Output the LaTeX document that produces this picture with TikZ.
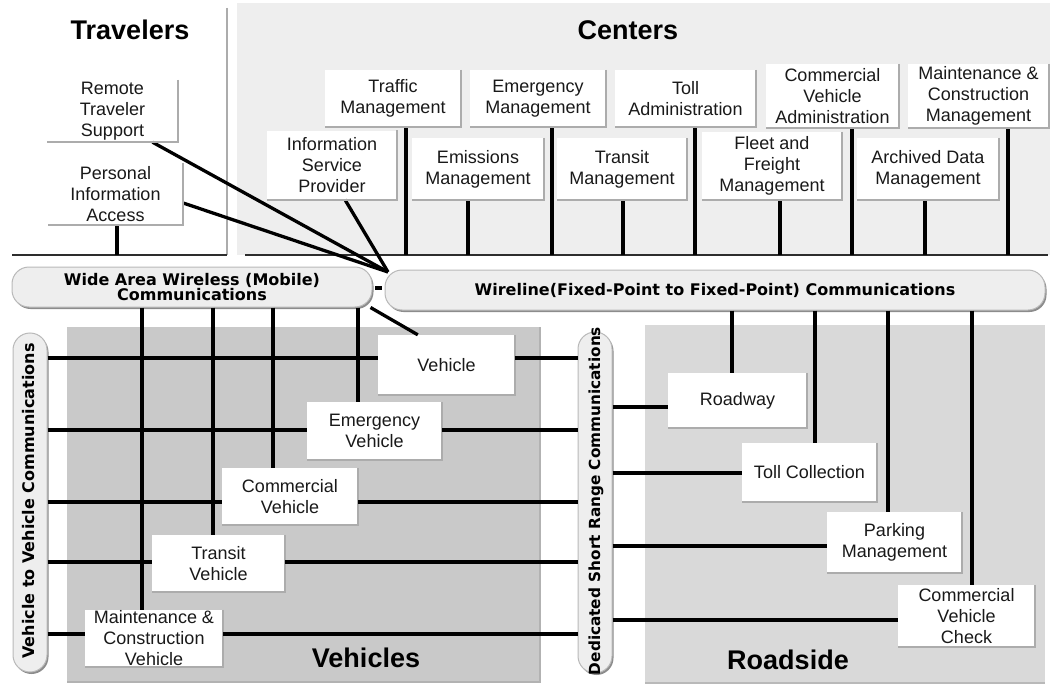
\documentclass[tikz,border=0pt]{standalone}
\usepackage{fontspec}
\setmainfont{Liberation Sans}
\newfontfamily\pillfont{DejaVu Sans}
\usetikzlibrary{shadows}
\begin{document}
\begin{tikzpicture}[x=1pt,y=-1pt,
  box/.style={fill=white, inner sep=0pt, align=center, font=\fontsize{18}{21}\selectfont, text=black!90},
  tbox/.style={box, fill=none},
  title/.style={inner sep=0pt, font=\fontsize{27}{30}\selectfont\bfseries},
  pill/.style={fill=gray!13, draw=gray!55, line width=1pt, rounded corners=17, inner sep=0pt, align=center,
     font=\pillfont\bfseries\fontsize{16}{15}\selectfont,
     drop shadow={shadow xshift=1.5pt, shadow yshift=-2pt, fill=black, opacity=0.45}},
  pilltext/.style={inner sep=0pt, font=\pillfont\bfseries\fontsize{16}{15}\selectfont},
  wire/.style={line width=3.3pt, black},
  edge3d/.style={draw=gray!65, line width=1.6pt},
  bus/.style={line width=2pt, gray!35!black}
]
\useasboundingbox (0,0) rectangle (1050,685);
\fill[white] (0,0) rectangle (1050,685);
% regions
\fill[gray!13] (237,3) rectangle (1050,255);
\fill[gray!42] (67,327) rectangle (540,682);
\draw[gray!60, line width=2pt] (540,327) -- (540,682) -- (67,682);
\fill[gray!30] (645,325) rectangle (1045,683);
\draw[gray!55, line width=2pt] (645,683) -- (1045,683);
\draw[edge3d] (227,8) -- (227,255);

% titles
\node[title] (travelers) at (130,30) {Travelers};
\node[title] (centers) at (628,30) {Centers};
\node[title] (vehicles) at (366,658) {Vehicles};
\node[title] (roadside) at (788,660) {Roadside};

% travelers
\node[tbox, minimum width=131, minimum height=62] (rts) at (112.5,111) {Remote\\Traveler\\Support};
\node[tbox, minimum width=135, minimum height=62] (pia) at (115.5,194) {Personal\\Information\\Access};

% centers upper row
\node[box, minimum width=136, minimum height=57] (traffic) at (393,98.5) {Traffic\\Management};
\node[box, minimum width=136, minimum height=57] (emergency) at (538,98.5) {Emergency\\Management};
\node[box, minimum width=141, minimum height=57] (toll) at (685.5,98.5) {Toll\\Administration};
\node[box, minimum width=133, minimum height=64] (cva) at (832.5,96) {Commercial\\Vehicle\\Administration};
\node[box, minimum width=141, minimum height=64] (mcm) at (978.5,96) {Maintenance \&\\Construction\\Management};
% centers lower row
\node[box, minimum width=130, minimum height=69] (isp) at (332,165) {Information\\Service\\Provider};
\node[box, minimum width=132, minimum height=62] (emissions) at (478,169) {Emissions\\Management};
\node[box, minimum width=130, minimum height=62] (transit) at (622,169) {Transit\\Management};
\node[box, minimum width=140, minimum height=68] (fleet) at (772,166) {Fleet and\\Freight\\Management};
\node[box, minimum width=142, minimum height=62] (archived) at (928,169) {Archived Data\\Management};

% bus
\coordinate (busW) at (12,255);
\coordinate (busT) at (227,255);
\coordinate (busC) at (245,255);
\coordinate (busE) at (1048,255);
\draw[bus] (busW) -- (busT);
\draw[bus] (busC) -- (busE);

% pills
\node[pill, minimum width=360, minimum height=40] (waw) at (192,287) {Wide Area Wireless (Mobile)\\Communications};
\node[pill, minimum width=660, minimum height=40] (wireline) at (715,290) {Wireline(Fixed-Point to Fixed-Point) Communications};
\node[pill, minimum width=34, minimum height=339] (v2v) at (30,502.5) {};
\node[pilltext, rotate=90] (v2vtext) at (29,501) {Vehicle to Vehicle Communications};
\node[pill, minimum width=34, minimum height=341] (dsrc) at (595,502.5) {};
\node[pilltext, rotate=90, font=\pillfont\bfseries\fontsize{15.3}{15}\selectfont] (dsrctext) at (596,501) {Dedicated Short Range Communications};

% junction
\coordinate (hub) at (388,272);
\node[fill=black, minimum width=7, minimum height=4, inner sep=0pt] (junction) at (378,288) {};

% center connectors
\draw[wire] ([xshift=13]traffic.south) -- ([xshift=13]traffic.south |- busE);
\draw[wire] ([xshift=14]emergency.south) -- ([xshift=14]emergency.south |- busE);
\draw[wire] ([xshift=9.5]toll.south) -- ([xshift=9.5]toll.south |- busE);
\draw[wire] ([xshift=19.5]cva.south) -- ([xshift=19.5]cva.south |- busE);
\draw[wire] ([xshift=29.5]mcm.south) -- ([xshift=29.5]mcm.south |- busE);
\draw[wire] ([xshift=-10]emissions.south) -- ([xshift=-10]emissions.south |- busE);
\draw[wire] ([xshift=1]transit.south) -- ([xshift=1]transit.south |- busE);
\draw[wire] ([xshift=8]fleet.south) -- ([xshift=8]fleet.south |- busE);
\draw[wire] ([xshift=-3]archived.south) -- ([xshift=-3]archived.south |- busE);
\draw[wire] ([xshift=1.5]pia.south) -- ([xshift=1.5]pia.south |- busW);
\draw[wire] ([xshift=40]rts.south) -- (hub);
\draw[wire] ([yshift=-9]pia.east) -- (hub);
\draw[wire] ([xshift=13]isp.south) -- (hub);

% vehicles
\node[box, minimum width=137, minimum height=60] (vehicle) at (446.5,365) {Vehicle};
\node[box, minimum width=135, minimum height=58] (emveh) at (374.5,431) {Emergency\\Vehicle};
\node[box, minimum width=136, minimum height=57] (comveh) at (290,496.5) {Commercial\\Vehicle};
\node[box, minimum width=133, minimum height=57] (trveh) at (218.5,563.5) {Transit\\Vehicle};
\node[box, minimum width=138, minimum height=57] (mcv) at (154,638.5) {Maintenance \&\\Construction\\Vehicle};

% roadside
\node[box, minimum width=139, minimum height=55] (roadway) at (737.5,400.5) {Roadway};
\node[box, minimum width=135, minimum height=59] (tollcol) at (809.5,472.5) {Toll Collection};
\node[box, minimum width=135, minimum height=61] (parking) at (894.5,542.5) {Parking\\Management};
\node[box, minimum width=137, minimum height=62] (cvc) at (966.5,616) {Commercial\\Vehicle\\Check};

% 3d edges
\foreach \n in {rts,pia,traffic,emergency,toll,cva,mcm,isp,emissions,transit,fleet,archived,
                vehicle,emveh,comveh,trveh,mcv,roadway,tollcol,parking,cvc}
  \draw[edge3d] (\n.north east) -- (\n.south east) -- (\n.south west);

% vehicle connectors (wide area wireless)
\draw[wire] (waw.south -| 142,0) -- (mcv.north -| 142,0);
\draw[wire] (waw.south -| 213,0) -- (trveh.north -| 213,0);
\draw[wire] (waw.south -| 273,0) -- (comveh.north -| 273,0);
\draw[wire] (waw.south -| 358,0) -- (emveh.north -| 358,0);
\draw[wire] ([xshift=-2]waw.south east) -- ([xshift=40]vehicle.north west);

% vehicle to vehicle / dsrc
\draw[wire] (v2v.east |- 0,358) -- (vehicle.west |- 0,358);
\draw[wire] (vehicle.east |- 0,358) -- (dsrc.west |- 0,358);
\draw[wire] (v2v.east |- 0,430) -- (emveh.west |- 0,430);
\draw[wire] (emveh.east |- 0,430) -- (dsrc.west |- 0,430);
\draw[wire] (v2v.east |- 0,502) -- (comveh.west |- 0,502);
\draw[wire] (comveh.east |- 0,502) -- (dsrc.west |- 0,502);
\draw[wire] (v2v.east |- 0,562) -- (trveh.west |- 0,562);
\draw[wire] (trveh.east |- 0,562) -- (dsrc.west |- 0,562);
\draw[wire] (v2v.east |- 0,634) -- (mcv.west |- 0,634);
\draw[wire] (mcv.east |- 0,634) -- (dsrc.west |- 0,634);

% roadside connectors
\draw[wire] (dsrc.east |- 0,407) -- (roadway.west |- 0,407);
\draw[wire] (dsrc.east |- 0,473) -- (tollcol.west |- 0,473);
\draw[wire] (dsrc.east |- 0,546) -- (parking.west |- 0,546);
\draw[wire] (dsrc.east |- 0,620) -- (cvc.west |- 0,620);
\draw[wire] (wireline.south -| 732,0) -- (roadway.north -| 732,0);
\draw[wire] (wireline.south -| 815,0) -- (tollcol.north -| 815,0);
\draw[wire] (wireline.south -| 888,0) -- (parking.north -| 888,0);
\draw[wire] (wireline.south -| 972,0) -- (cvc.north -| 972,0);
\end{tikzpicture}
\end{document}
